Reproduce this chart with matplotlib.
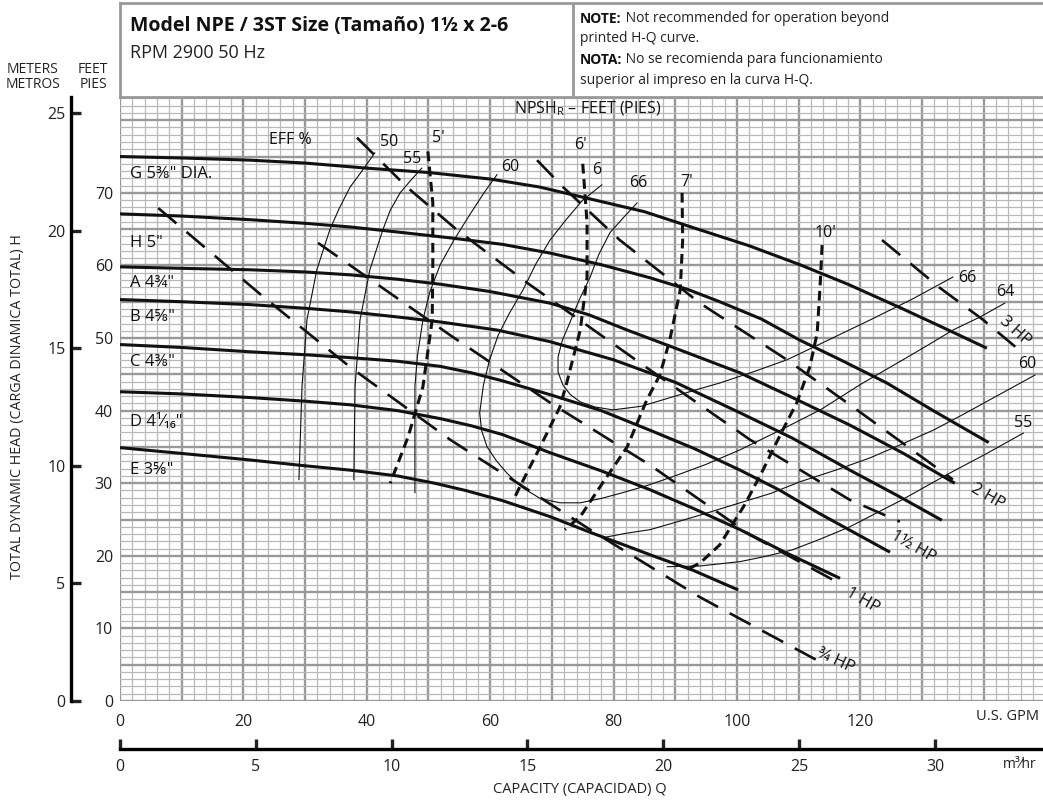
import numpy as np
import matplotlib
matplotlib.use("Agg")
import matplotlib.pyplot as plt
from matplotlib import font_manager

#--------------------------------------------------------------------------------------
#Fonts
def pick(names):
    for n in names:
        try:
            font_manager.findfont(font_manager.FontProperties(family=n), fallback_to_default=False)
            return n
        except Exception:
            pass
    return "DejaVu Sans"

BASE = [pick(["Open Sans", "Noto Sans"]), "DejaVu Sans"]
NARROW = [pick(["Liberation Sans Narrow", "Open Sans", "Noto Sans"]), "DejaVu Sans"]
plt.rcParams["font.family"] = BASE
plt.rcParams["mathtext.fontset"] = "custom"
plt.rcParams["mathtext.rm"] = BASE[0]

#--------------------------------------------------------------------------------------
#Data  (capacity in U.S. GPM, head in feet)
gpm_ticks = [0, 20, 40, 60, 80, 100, 120]
ft_ticks = [0, 10, 20, 30, 40, 50, 60, 70]
m_ticks = [0, 5, 10, 15, 20, 25]
m3h_ticks = [0, 5, 10, 15, 20, 25, 30]

head_names = ['G 5⅜" DIA.', 'H 5"', 'A 4¾"', 'B 4⅝"', 'C 4⅜"', 'D 4¹⁄₁₆"', 'E 3⅝"']
head_label_ft = [72.6, 63.1, 57.6, 52.9, 46.7, 38.4, 31.8]
head_q = [
    [0, 10, 21.1, 30, 40, 50, 60, 68, 75, 85, 94, 102, 110.2, 118, 126.4, 133.5, 140.5],
    [0, 10, 21.1, 30, 37.3, 45, 53.5, 62, 69.7, 78, 85.9, 92, 97.2, 104, 110.2, 117, 124.3, 132, 140.8],
    [0, 10, 21.1, 30, 37.3, 45, 52, 60, 69.7, 76, 82.2, 90, 100.5, 109, 118.3, 127, 135.3],
    [0, 10, 21.1, 30, 37.3, 45, 52, 61.1, 69.7, 80, 90, 100.5, 109, 118.3, 126, 133.2],
    [0, 10, 21.1, 30, 37.3, 45, 51.9, 57, 62, 69.7, 78, 85.9, 93, 100.5, 107, 113, 119, 124.8],
    [0, 10, 21.1, 30, 37.3, 45, 51.9, 57, 62, 69.7, 78, 85.9, 93, 100.5, 108, 116.7],
    [0, 10, 21.1, 30, 37.3, 45, 51, 56, 62, 69.7, 76, 82, 87, 92.9, 100.2],
]
head_h = [
    [75.0, 74.8, 74.5, 74.1, 73.4, 72.8, 71.9, 70.8, 69.4, 67.4, 64.9, 62.7, 60.1, 57.4, 54.2, 51.4, 48.6],
    [67.1, 66.8, 66.3, 65.8, 65.3, 64.6, 63.8, 62.9, 61.7, 60.1, 58.3, 56.7, 55.0, 52.6, 49.7, 46.9, 43.8, 39.9, 35.6],
    [59.8, 59.6, 59.4, 59.1, 58.7, 58.1, 57.4, 56.4, 54.8, 53.2, 51.1, 48.6, 45.2, 41.8, 38.0, 34.1, 30.0],
    [55.3, 55.0, 54.6, 54.1, 53.6, 52.9, 52.2, 51.1, 49.5, 47.0, 43.9, 39.7, 36.2, 31.8, 28.3, 24.9],
    [49.1, 48.7, 48.1, 47.7, 47.3, 46.8, 46.1, 45.2, 44.1, 42.2, 40.0, 37.3, 34.8, 31.8, 29.0, 26.0, 23.2, 20.5],
    [42.6, 42.3, 41.8, 41.3, 40.8, 40.0, 38.9, 37.9, 36.7, 34.2, 31.7, 29.1, 26.5, 23.6, 20.4, 16.9],
    [34.9, 34.1, 33.2, 32.4, 31.8, 31.0, 30.0, 29.0, 27.6, 25.4, 23.3, 21.4, 19.8, 18.0, 15.3],
]

# efficiency (%) lines
eff_q = {
    "50": [41.3, 39.3, 37.3, 35.5, 34.0, 31.9, 30.3, 29.5, 29.0],
    "55": [48.9, 47.0, 45.4, 43.8, 42.6, 40.5, 38.9, 38.1, 37.9],
    "60": [61.1, 59.0, 56.7, 54.2, 51.9, 50.2, 49.1, 48.2, 47.8, 47.8],
    "64": [78.1, 75.0, 72.3, 69.7, 67.4, 65.3, 63.1, 61.3, 59.9, 58.9, 58.3, 58.6, 59.5, 61.0, 62.7, 65.2, 68.1, 71.3,
           74.6, 78.0, 81.5, 85.5, 89.6, 95.0, 100.5, 107.0, 113.5, 120.0, 126.9, 131.5, 135.0, 139.4, 143.4],
    "66": [83.8, 81.5, 79.4, 77.6, 76.2, 74.4, 72.9, 71.7, 71.0, 71.0, 71.8, 73.0, 74.6, 77.0, 79.9, 84.5, 89.6,
           93.5, 97.2, 102.5, 108.1, 115.0, 121.6, 128.5, 135.0],
    "60r": [78.3, 82.0, 85.9, 90.0, 94.0, 100.5, 105.5, 110.2, 116.0, 121.6, 126.5, 131.8, 136.5, 141.0, 148.3],
    "55r": [88.7, 94.0, 100.5, 104.5, 108.9, 113.5, 118.3, 126.5, 134.5, 140.5, 146.4],
}
eff_h = {
    "50": [75.5, 73.1, 70.8, 67.8, 64.9, 59.4, 52.5, 43.3, 30.5],
    "55": [73.4, 71.6, 70.0, 67.6, 64.9, 59.4, 52.5, 43.3, 30.5],
    "60": [72.5, 70.0, 67.0, 63.6, 60.1, 56.3, 52.5, 47.5, 43.3, 28.7],
    "64": [71.1, 69.0, 66.3, 63.5, 60.2, 56.6, 53.4, 50.4, 47.0, 43.5, 39.7, 37.3, 35.0, 33.1, 31.4, 29.4, 27.9, 27.3,
           27.3, 27.9, 28.7, 29.7, 30.9, 32.6, 34.6, 37.3, 40.1, 43.6, 47.0, 49.3, 51.1, 52.9, 54.8],
    "66": [68.6, 66.5, 64.5, 61.5, 58.4, 55.2, 52.1, 49.7, 47.4, 45.3, 43.5, 42.2, 41.2, 40.5, 40.1, 40.6, 41.9,
           42.9, 43.8, 45.3, 47.0, 49.8, 52.5, 55.4, 58.4],
    "60r": [22.5, 23.1, 23.6, 24.6, 25.6, 27.3, 28.6, 30.2, 31.8, 33.5, 35.3, 37.3, 39.4, 41.5, 44.9],
    "55r": [18.5, 18.6, 19.2, 19.9, 20.8, 22.3, 24.0, 27.6, 31.4, 34.1, 36.9],
}
eff_labels = [("EFF %", 27.6, 77.3), ("50", 43.6, 77.0), ("55", 47.3, 74.7), ("60", 63.2, 73.6),
              ("6", 77.3, 73.2), ("66", 84.0, 71.4), ("66", 137.4, 58.2), ("64", 143.5, 56.4),
              ("60", 147.0, 46.4), ("55", 146.4, 38.3)]

# NPSH required (feet)
npsh_q = {
    "5'": [49.9, 50.7, 50.7, 50.6, 49.1, 46.7, 43.8],
    "6'": [75.0, 75.7, 75.7, 74.6, 72.4, 71.3, 68.1, 64.8, 64.0],
    "7'": [91.1, 91.2, 90.8, 89.1, 87.5, 85.4, 82.2, 77.8, 74.6, 72.1],
    "10'": [113.8, 113.5, 113.0, 111.8, 109.7, 107.1, 104.2, 101.3, 97.2, 94.0, 91.9],
}
npsh_h = {
    "5'": [75.7, 68.6, 59.4, 52.5, 43.3, 36.4, 30.0],
    "6'": [74.0, 65.9, 58.4, 51.1, 43.8, 40.5, 35.0, 29.5, 28.1],
    "7'": [70.0, 63.5, 56.6, 49.7, 44.9, 41.5, 35.0, 29.5, 25.4, 23.6],
    "10'": [62.8, 57.6, 50.7, 46.0, 41.1, 36.8, 31.8, 27.1, 21.5, 19.0, 18.1],
}
npsh_label_pos = {"5'": (51.6, 77.6), "6'": (74.6, 76.6), "7'": (91.9, 71.5), "10'": (114.3, 64.5)}

# motor power (HP)
hp_q = {
    "¾ HP": [6.2, 23.2, 37.3, 53.5, 76.2, 94.0, 113.0],
    "1 HP": [32.1, 53.5, 69.7, 85.9, 102.1, 116.4],
    "1½ HP": [38.4, 46.5, 54.6, 66.0, 85.9, 102.1, 118.3, 126.4],
    "2 HP": [67.6, 71.8, 81.0, 94.0, 108.1, 118.8, 135.0],
    "3 HP": [123.5, 132.9, 139.9, 145.1],
}
hp_h = {
    "¾ HP": [67.9, 55.7, 46.0, 36.0, 23.6, 14.3, 5.6],
    "1 HP": [63.1, 50.4, 41.1, 32.5, 22.9, 16.3],
    "1½ HP": [77.6, 70.8, 64.9, 57.6, 45.6, 36.0, 27.7, 24.7],
    "2 HP": [74.5, 70.8, 63.5, 54.8, 47.0, 40.5, 30.5],
    "3 HP": [63.5, 56.9, 52.5, 48.8],
}
hp_label_pos = {"¾ HP": (116.0, 5.5, -25), "1 HP": (120.4, 13.9, -30), "1½ HP": (128.6, 21.3, -30),
                "2 HP": (140.6, 28.2, -30), "3 HP": (145.0, 51.0, -42)}

GPM_MAX = 149.6
FT_MAX = 83.2
FT_PER_M = 3.24          # as printed on the chart scale
GPM_PER_M3H = 4.403

#--------------------------------------------------------------------------------------
#Figure
fig = plt.figure(figsize=(10.43, 8), dpi=100)
def fx(px): return px / 1043
def fy(py): return 1 - py / 800

L, B, W, H = fx(120), fy(701), 923 / 1043, 604 / 800
ax = fig.add_axes([L, B, W, H])
ax.set_xlim(0, GPM_MAX)
ax.set_ylim(0, FT_MAX)
for s in ax.spines.values():
    s.set_visible(False)

# grid paper
for g in np.arange(0, GPM_MAX, 2):
    major = round(g) % 10 == 0
    ax.axvline(g, color="#999999" if major else "#b9b9b9", lw=1.7 if major else 0.9, zorder=0)
for g in np.arange(0, FT_MAX, 1):
    major = round(g) % 5 == 0
    ax.axhline(g, color="#999999" if major else "#b9b9b9", lw=1.7 if major else 0.9, zorder=0)

ax.set_xticks(gpm_ticks)
ax.set_xticklabels([str(v) for v in gpm_ticks])
ax.set_yticks(ft_ticks)
ax.set_yticklabels([str(v) for v in ft_ticks])
ax.tick_params(length=0, labelsize=11.5, colors="#222222")
ax.tick_params(axis="x", pad=9)
ax.tick_params(axis="y", pad=5)

# head-capacity curves
for q, h, name, ly in zip(head_q, head_h, head_names, head_label_ft):
    ax.plot(q, h, color="#111111", lw=2.2, zorder=5, solid_capstyle="butt", solid_joinstyle="round")
    ax.text(1.6, ly, name, fontsize=12, va="center", ha="left", color="#111111", zorder=6)

# efficiency
for k in eff_q:
    ax.plot(eff_q[k], eff_h[k], color="#111111", lw=0.8, zorder=4)
for t, q, h in eff_labels:
    ax.text(q, h, t, fontsize=11.5, ha="center", va="center", color="#111111", zorder=6)

# NPSH
for k in npsh_q:
    ax.plot(npsh_q[k], npsh_h[k], color="#111111", lw=2.2, dashes=(3.2, 1.8), zorder=5)
    lq, lh = npsh_label_pos[k]
    ax.text(lq, lh, k, fontsize=11.5, ha="center", va="center", color="#111111", zorder=6)
ax.text(75.8, 81.6, r"NPSH$_\mathrm{R}$ – FEET (PIES)", fontsize=11.5, ha="center", va="center",
        color="#111111", zorder=6)

# HP
for k in hp_q:
    ax.plot(hp_q[k], hp_h[k], color="#111111", lw=1.9, dashes=(9, 5), zorder=5)
    lq, lh, rot = hp_label_pos[k]
    ax.text(lq, lh, k, fontsize=12, ha="center", va="center", rotation=rot, rotation_mode="anchor",
            color="#111111", zorder=6)

ax.text(149.0, -2.2, "U.S. GPM", fontsize=10.5, ha="right", va="center", color="#222222",
        clip_on=False)

#--------------------------------------------------------------------------------------
#Meters scale
axm = fig.add_axes([fx(71), B, 0.0005, H])
axm.set_ylim(0, FT_MAX / FT_PER_M)
axm.set_xticks([])
for s in ["top", "right", "bottom"]:
    axm.spines[s].set_visible(False)
axm.spines["left"].set_linewidth(2.4)
axm.set_yticks(m_ticks)
axm.set_yticklabels([str(v) for v in m_ticks])
axm.tick_params(axis="y", direction="in", length=7, width=2.4, labelsize=11.5, pad=4, colors="#222222")
axm.patch.set_visible(False)

#Capacity m3/hr scale
axq = fig.add_axes([L, fy(749), W, 0.0005])
axq.set_xlim(0, GPM_MAX / GPM_PER_M3H)
axq.set_yticks([])
for s in ["top", "right", "left"]:
    axq.spines[s].set_visible(False)
axq.spines["bottom"].set_linewidth(2.4)
axq.set_xticks(m3h_ticks)
axq.set_xticklabels([str(v) for v in m3h_ticks])
axq.tick_params(axis="x", direction="in", length=7, width=2.4, labelsize=11.5, pad=7, colors="#222222")
axq.patch.set_visible(False)

fig.text(fx(1020), fy(765), "m³⁄hr", fontsize=10, ha="center", va="center", color="#222222", family=NARROW)
fig.text(fx(580), fy(790), "CAPACITY (CAPACIDAD) Q", fontsize=10.5, ha="center", va="center",
         color="#222222", family=NARROW)
fig.text(fx(18), fy(407), "TOTAL DYNAMIC HEAD (CARGA DINAMICA TOTAL) H", fontsize=10.3, rotation=90,
         ha="center", va="center", color="#222222", family=NARROW)
fig.text(fx(33), fy(77), "METERS\nMETROS", fontsize=10, ha="center", va="center", color="#222222",
         family=NARROW, linespacing=1.0)
fig.text(fx(93), fy(77), "FEET\nPIES", fontsize=10, ha="center", va="center", color="#222222",
         family=NARROW, linespacing=1.0)

#--------------------------------------------------------------------------------------
#Header box
hax = fig.add_axes([L, fy(97), W, 94 / 800])
hax.set_xlim(0, 1)
hax.set_ylim(0, 1)
hax.set_xticks([])
hax.set_yticks([])
for s in hax.spines.values():
    s.set_color("#999999")
    s.set_linewidth(2)
hax.spines["right"].set_visible(False)
hax.axvline((573 - 120) / 923, color="#999999", lw=2)

fig.text(fx(130), fy(26), "Model NPE / 3ST Size (Tamaño) 1½ x 2-6", fontsize=14, fontweight="bold",
         ha="left", va="center", color="#111111", family=NARROW)
fig.text(fx(130), fy(53), "RPM 2900 50 Hz", fontsize=13, ha="left", va="center", color="#222222",
         family=NARROW)

note_lines = [("NOTE:", " Not recommended for operation beyond", 26),
              ("", "printed H-Q curve.", 46),
              ("NOTA:", " No se recomienda para funcionamiento", 67),
              ("", "superior al impreso en la curva H-Q.", 88)]
for b, r, py in note_lines:
    if b:
        tb = fig.text(fx(580), fy(py), b, fontsize=10, fontweight="bold", ha="left", va="bottom",
                      color="#111111", family=NARROW)
        hax.annotate(r, xy=(1, 0), xycoords=tb, fontsize=10, ha="left", va="bottom", color="#222222",
                     family=NARROW, annotation_clip=False)
    else:
        fig.text(fx(580), fy(py), r, fontsize=10, ha="left", va="bottom", color="#222222", family=NARROW)

fig.savefig("out.png", dpi=100)
